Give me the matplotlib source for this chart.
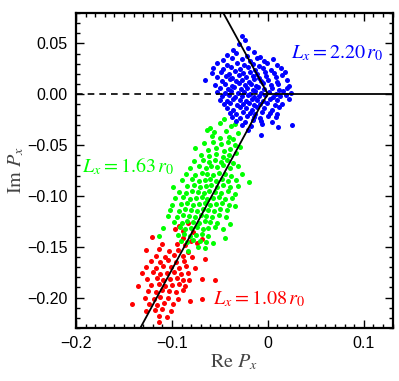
import matplotlib
matplotlib.use("Agg")
import matplotlib.pyplot as plt
from matplotlib.ticker import MultipleLocator, FixedLocator, FuncFormatter

plt.rcParams["mathtext.fontset"] = "stix"
plt.rcParams["font.family"] = "Liberation Sans"

# Re/Im of P_x for each cluster
blue_pts = [
    (-0.027, 0.057), (-0.024, 0.053),
    (-0.030, 0.049), (-0.021, 0.046), (-0.036, 0.044),
    (-0.043, 0.039), (-0.033, 0.041), (-0.022, 0.038), (-0.014, 0.042), (-0.008, 0.037),
    (-0.047, 0.034), (-0.037, 0.036), (-0.027, 0.035), (-0.019, 0.033), (-0.011, 0.036), (-0.004, 0.033), (0.005, 0.035),
    (-0.053, 0.031), (-0.043, 0.029), (-0.032, 0.031), (-0.025, 0.029), (-0.016, 0.030), (-0.009, 0.028), (-0.001, 0.031), (0.010, 0.029),
    (-0.057, 0.026), (-0.047, 0.025), (-0.038, 0.027), (-0.029, 0.025), (-0.021, 0.027), (-0.013, 0.024), (-0.005, 0.026), (0.003, 0.024), (0.014, 0.026),
    (-0.058, 0.021), (-0.049, 0.022), (-0.041, 0.020), (-0.034, 0.023), (-0.026, 0.021), (-0.019, 0.022), (-0.011, 0.020), (-0.003, 0.022), (0.006, 0.021), (0.018, 0.022),
    (-0.053, 0.017), (-0.044, 0.018), (-0.037, 0.016), (-0.030, 0.019), (-0.023, 0.017), (-0.016, 0.018), (-0.009, 0.016), (-0.002, 0.018), (0.008, 0.017), (0.015, 0.019),
    (-0.066, 0.014), (-0.048, 0.013), (-0.040, 0.015), (-0.033, 0.013), (-0.027, 0.014), (-0.020, 0.012), (-0.014, 0.015), (-0.007, 0.013), (0.000, 0.014), (0.009, 0.012), (0.020, 0.014),
    (-0.055, 0.009), (-0.045, 0.010), (-0.037, 0.008), (-0.030, 0.011), (-0.024, 0.009), (-0.018, 0.010), (-0.012, 0.008), (-0.005, 0.011), (0.003, 0.009), (0.011, 0.010), (0.022, 0.008),
    (-0.050, 0.006), (-0.042, 0.005), (-0.035, 0.007), (-0.028, 0.005), (-0.022, 0.006), (-0.016, 0.004), (-0.010, 0.007), (-0.004, 0.005), (0.004, 0.006), (0.012, 0.004), (0.020, 0.006),
    (-0.053, 0.002), (-0.045, 0.001), (-0.038, 0.003), (-0.031, 0.001), (-0.025, 0.002), (-0.019, 0.000), (-0.013, 0.003), (-0.007, 0.001), (0.001, 0.002), (0.008, 0.000), (0.016, 0.003), (0.024, 0.001),
    (-0.048, -0.002), (-0.041, -0.001), (-0.034, -0.003), (-0.027, -0.002), (-0.021, -0.001), (-0.015, -0.003), (-0.009, -0.002), (-0.003, -0.001), (0.005, -0.003), (0.013, -0.002), (0.019, -0.001),
    (-0.050, -0.006), (-0.043, -0.007), (-0.036, -0.005), (-0.029, -0.006), (-0.023, -0.007), (-0.017, -0.005), (-0.011, -0.006), (-0.005, -0.007), (0.002, -0.005), (0.010, -0.006), (0.022, -0.005),
    (-0.046, -0.010), (-0.039, -0.009), (-0.032, -0.011), (-0.026, -0.010), (-0.020, -0.009), (-0.014, -0.011), (-0.008, -0.010), (-0.001, -0.009), (0.007, -0.011), (0.015, -0.010),
    (-0.043, -0.014), (-0.036, -0.015), (-0.029, -0.013), (-0.023, -0.014), (-0.017, -0.015), (-0.011, -0.013), (-0.004, -0.014), (0.004, -0.015), (0.012, -0.013),
    (-0.040, -0.018), (-0.033, -0.019), (-0.026, -0.017), (-0.019, -0.018), (-0.013, -0.019), (-0.006, -0.017), (0.002, -0.018), (0.010, -0.019),
    (-0.037, -0.022), (-0.029, -0.023), (-0.022, -0.021), (-0.015, -0.022), (-0.008, -0.023), (0.000, -0.021), (0.008, -0.022),
    (-0.033, -0.026), (-0.024, -0.027), (-0.016, -0.025), (-0.007, -0.026), (0.004, -0.027),
    (-0.027, -0.030), (-0.018, -0.031), (-0.006, -0.029), (0.011, -0.032), (0.025, -0.030),
    (-0.021, -0.035), (-0.007, -0.040),
]

green_pts = [
    (-0.046, -0.024),
    (-0.060, -0.033), (-0.038, -0.031), (-0.034, -0.029), (-0.050, -0.028),
    (-0.056, -0.037), (-0.044, -0.036), (-0.031, -0.038), (-0.063, -0.035),
    (-0.058, -0.041), (-0.050, -0.043), (-0.041, -0.042), (-0.036, -0.044),
    (-0.067, -0.048), (-0.057, -0.047), (-0.049, -0.049), (-0.042, -0.047), (-0.034, -0.050),
    (-0.076, -0.053), (-0.062, -0.055), (-0.054, -0.053), (-0.046, -0.056), (-0.039, -0.054), (-0.029, -0.052),
    (-0.070, -0.060), (-0.061, -0.061), (-0.054, -0.059), (-0.047, -0.062), (-0.041, -0.060), (-0.033, -0.058),
    (-0.077, -0.066), (-0.068, -0.065), (-0.061, -0.067), (-0.055, -0.065), (-0.049, -0.067), (-0.043, -0.065), (-0.036, -0.068),
    (-0.081, -0.073), (-0.072, -0.071), (-0.065, -0.073), (-0.059, -0.071), (-0.053, -0.072), (-0.047, -0.070), (-0.040, -0.073), (-0.031, -0.071),
    (-0.085, -0.078), (-0.076, -0.079), (-0.069, -0.077), (-0.063, -0.078), (-0.057, -0.079), (-0.051, -0.077), (-0.045, -0.078), (-0.038, -0.080), (-0.027, -0.078),
    (-0.090, -0.084), (-0.079, -0.083), (-0.072, -0.085), (-0.066, -0.084), (-0.060, -0.083), (-0.054, -0.085), (-0.048, -0.083), (-0.042, -0.085), (-0.033, -0.084), (-0.020, -0.086),
    (-0.099, -0.091), (-0.084, -0.090), (-0.077, -0.089), (-0.071, -0.091), (-0.065, -0.090), (-0.059, -0.089), (-0.053, -0.091), (-0.047, -0.089), (-0.040, -0.091), (-0.031, -0.090),
    (-0.093, -0.096), (-0.085, -0.097), (-0.079, -0.095), (-0.073, -0.096), (-0.067, -0.097), (-0.061, -0.095), (-0.055, -0.096), (-0.049, -0.097), (-0.042, -0.095), (-0.034, -0.098),
    (-0.097, -0.102), (-0.088, -0.101), (-0.081, -0.103), (-0.075, -0.102), (-0.069, -0.101), (-0.063, -0.103), (-0.057, -0.102), (-0.051, -0.101), (-0.045, -0.103), (-0.037, -0.102),
    (-0.100, -0.109), (-0.091, -0.108), (-0.084, -0.107), (-0.078, -0.109), (-0.072, -0.108), (-0.066, -0.107), (-0.060, -0.109), (-0.054, -0.108), (-0.048, -0.107), (-0.041, -0.109), (-0.034, -0.110),
    (-0.102, -0.114), (-0.093, -0.115), (-0.086, -0.113), (-0.080, -0.114), (-0.074, -0.115), (-0.068, -0.113), (-0.062, -0.114), (-0.056, -0.115), (-0.050, -0.113), (-0.043, -0.114),
    (-0.104, -0.120), (-0.095, -0.121), (-0.088, -0.119), (-0.082, -0.120), (-0.076, -0.121), (-0.070, -0.119), (-0.064, -0.120), (-0.058, -0.121), (-0.051, -0.119), (-0.044, -0.121),
    (-0.098, -0.126), (-0.090, -0.127), (-0.084, -0.125), (-0.078, -0.126), (-0.072, -0.127), (-0.066, -0.125), (-0.060, -0.126), (-0.053, -0.127), (-0.039, -0.128),
    (-0.109, -0.132), (-0.092, -0.131), (-0.086, -0.133), (-0.080, -0.132), (-0.074, -0.131), (-0.068, -0.133), (-0.062, -0.132), (-0.055, -0.131), (-0.047, -0.133),
    (-0.113, -0.139), (-0.094, -0.138), (-0.087, -0.137), (-0.081, -0.139), (-0.075, -0.138), (-0.069, -0.137), (-0.062, -0.139), (-0.045, -0.141),
    (-0.091, -0.144), (-0.084, -0.145), (-0.078, -0.143), (-0.071, -0.144), (-0.064, -0.145), (-0.057, -0.146),
    (-0.083, -0.154), (-0.073, -0.150), (-0.066, -0.151),
]

red_pts = [
    (-0.083, -0.127), (-0.093, -0.130),
    (-0.089, -0.135), (-0.078, -0.136), (-0.097, -0.133),
    (-0.121, -0.140), (-0.088, -0.141), (-0.069, -0.142), (-0.080, -0.144),
    (-0.110, -0.147), (-0.095, -0.147), (-0.086, -0.148), (-0.074, -0.146),
    (-0.127, -0.153), (-0.113, -0.152), (-0.103, -0.154), (-0.094, -0.153), (-0.083, -0.155),
    (-0.117, -0.159), (-0.107, -0.160), (-0.098, -0.158), (-0.089, -0.159), (-0.079, -0.160),
    (-0.122, -0.164), (-0.112, -0.165), (-0.104, -0.163), (-0.096, -0.165), (-0.087, -0.164), (-0.066, -0.162),
    (-0.127, -0.170), (-0.117, -0.171), (-0.109, -0.169), (-0.101, -0.170), (-0.093, -0.171), (-0.085, -0.169), (-0.076, -0.171),
    (-0.131, -0.176), (-0.120, -0.175), (-0.112, -0.177), (-0.105, -0.176), (-0.098, -0.175), (-0.091, -0.177), (-0.083, -0.176),
    (-0.126, -0.182), (-0.116, -0.181), (-0.109, -0.183), (-0.102, -0.182), (-0.095, -0.181), (-0.088, -0.183), (-0.082, -0.183), (-0.069, -0.182), (-0.055, -0.183),
    (-0.135, -0.189), (-0.122, -0.188), (-0.114, -0.187), (-0.107, -0.189), (-0.100, -0.188), (-0.093, -0.187), (-0.086, -0.189),
    (-0.125, -0.194), (-0.117, -0.195), (-0.110, -0.193), (-0.103, -0.194), (-0.096, -0.195), (-0.089, -0.193),
    (-0.128, -0.200), (-0.119, -0.201), (-0.112, -0.199), (-0.104, -0.200), (-0.094, -0.201), (-0.081, -0.203), (-0.069, -0.201),
    (-0.142, -0.206), (-0.124, -0.206), (-0.116, -0.207), (-0.108, -0.205), (-0.099, -0.206),
    (-0.127, -0.213), (-0.118, -0.212), (-0.110, -0.211), (-0.101, -0.213),
    (-0.113, -0.218), (-0.105, -0.219),
    (-0.113, -0.224),
]

labels = [r"$L_x = 1.08\,r_0$", r"$L_x = 1.63\,r_0$", r"$L_x = 2.20\,r_0$"]
colors = ["#ff0000", "#00ff00", "#0000ff"]

# boundary lines
upper_line_x = [0.0, -0.0465]
upper_line_y = [0.0, 0.08]
lower_line_x = [0.0, -0.007, -0.133]
lower_line_y = [0.0, -0.0102, -0.23]

fig = plt.figure(figsize=(3.99, 3.81), dpi=100)
ax = fig.add_axes([0.1905, 0.139, 0.7935, 0.827])

for pts, c in zip([red_pts, green_pts, blue_pts], colors):
    xs, ys = zip(*pts)
    ax.scatter(xs, ys, s=13, color=c, linewidths=0, zorder=2)

ax.plot([-0.2, 0.0], [0, 0], color="k", lw=1.2, ls=(0, (4, 3)), zorder=3)
ax.plot([0.0, 0.13], [0, 0], color="k", lw=1.3, zorder=3)
ax.plot(upper_line_x, upper_line_y, color="k", lw=1.3, zorder=3)
ax.plot(lower_line_x, lower_line_y, color="k", lw=1.3, zorder=3)

ax.text(0.024, 0.040, labels[2], color=colors[2], fontsize=14.5, va="center", ha="left")
ax.text(-0.194, -0.0717, labels[1], color=colors[1], fontsize=14.5, va="center", ha="left")
ax.text(-0.0576, -0.2015, labels[0], color=colors[0], fontsize=14.5, va="center", ha="left")

ax.set_xlim(-0.2, 0.13)
ax.set_ylim(-0.23, 0.08)

ax.xaxis.set_major_locator(FixedLocator([-0.2, -0.1, 0.0, 0.1]))
ax.xaxis.set_minor_locator(MultipleLocator(0.01))
ax.yaxis.set_major_locator(MultipleLocator(0.05))
ax.yaxis.set_minor_locator(MultipleLocator(0.01))
ax.xaxis.set_major_formatter(FuncFormatter(lambda v, p: "0" if abs(v) < 1e-9 else f"{v:.1f}".replace("-", "\u2212")))
ax.yaxis.set_major_formatter(FuncFormatter(lambda v, p: f"{0 if abs(v) < 1e-9 else v:.2f}".replace("-", "\u2212")))

ax.tick_params(which="both", direction="in", top=True, right=True, labelsize=11.5, width=1.0)
ax.tick_params(which="major", length=6, pad=6)
ax.tick_params(which="minor", length=3)
for s in ax.spines.values():
    s.set_linewidth(1.6)

ax.set_xlabel(r"$\mathrm{Re}\ P_x$", fontsize=14.5, color="#444444", labelpad=1)
ax.set_ylabel(r"$\mathrm{Im}\ P_x$", fontsize=14.5, color="#444444", labelpad=1)

fig.savefig("out.png", dpi=100)
